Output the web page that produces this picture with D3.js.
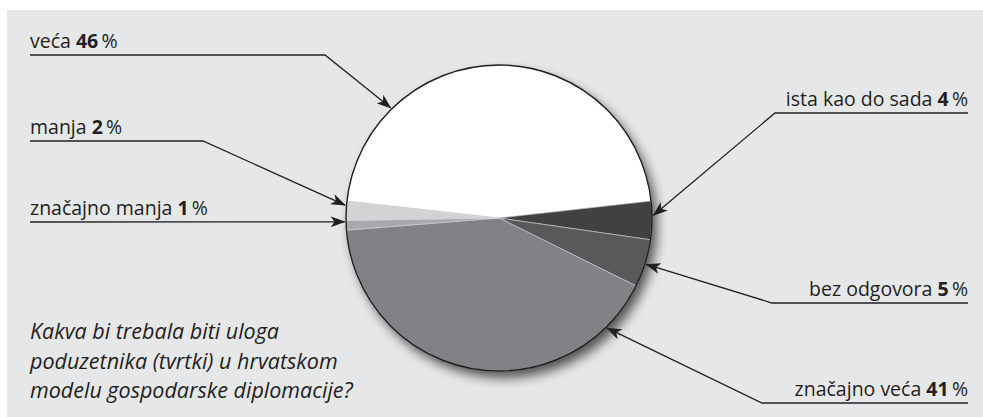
<!DOCTYPE html>
<html>
<head>
<meta charset="utf-8">
<script src="https://cdn.jsdelivr.net/npm/d3@7"></script>
<style>
  html, body { margin: 0; padding: 0; background: #ffffff; }
  svg { display: block; }
  text { font-family: "Open Sans", "Noto Sans", sans-serif; fill: #231f20; }
</style>
</head>
<body>
<svg id="chart" width="983" height="417"></svg>
<script>
// Survey answers, in drawing order (clockwise, starting left of the top)
const categories = ["veća", "ista kao do sada", "bez odgovora", "značajno veća", "značajno manja", "manja"];
const values = [46, 4, 5, 41, 1, 2];
const sliceColors = ["#ffffff", "#414042", "#58595b", "#808285", "#a7a9ac", "#d1d3d4"];

const questionLines = [
  "Kakva bi trebala biti uloga",
  "poduzetnika (tvrtki) u hrvatskom",
  "modelu gospodarske diplomacije?"
];

// Callout layout: side of the label, y of the underline, elbow x, pointer angle (deg, clockwise from top)
const callouts = [
  { side: "left",  lineY: 55,  elbowX: 325, angle: -44.5 },
  { side: "right", lineY: 113, elbowX: 775, angle: 89 },
  { side: "right", lineY: 303, elbowX: 772, angle: 107.5 },
  { side: "right", lineY: 403, elbowX: 762, angle: 135.5 },
  { side: "left",  lineY: 222, elbowX: null, angle: 268.6 },
  { side: "left",  lineY: 141, elbowX: 203, angle: 274.8 }
];

const W = 983, H = 417;
const cx = 499, cy = 218, R = 153;
const leftX = 30, rightX = 968;
const ink = "#231f20";

const svg = d3.select("#chart");
const defs = svg.append("defs");

// Soft drop shadow under the pie
const f = defs.append("filter").attr("id", "shadow")
  .attr("x", "-20%").attr("y", "-20%").attr("width", "150%").attr("height", "150%");
f.append("feGaussianBlur").attr("in", "SourceAlpha").attr("stdDeviation", 6).attr("result", "b");
f.append("feOffset").attr("in", "b").attr("dx", 5).attr("dy", 7).attr("result", "o");
f.append("feComponentTransfer").attr("in", "o").attr("result", "s")
  .append("feFuncA").attr("type", "linear").attr("slope", 0.65);
const merge = f.append("feMerge");
merge.append("feMergeNode").attr("in", "s");

// Arrowhead
defs.append("marker").attr("id", "arrow")
  .attr("viewBox", "0 0 15 11").attr("refX", 14).attr("refY", 5.5)
  .attr("markerWidth", 15).attr("markerHeight", 11)
  .attr("markerUnits", "userSpaceOnUse").attr("orient", "auto")
  .append("path").attr("d", "M0,0 L15,5.5 L0,11 L4,5.5 Z").attr("fill", ink);

// Panel
svg.append("rect").attr("x", 7).attr("y", 10).attr("width", W - 7).attr("height", H - 10)
  .attr("fill", "#e6e7e8");

// Pie
const total = d3.sum(values);
const start = -(values[0] / total) * Math.PI;
const pie = d3.pie().sort(null).value(d => d).startAngle(start).endAngle(start + 2 * Math.PI);
const arcs = pie(values);
const arc = d3.arc().innerRadius(0).outerRadius(R);

const g = svg.append("g").attr("transform", `translate(${cx},${cy})`);
g.append("circle").attr("r", R).attr("fill", "#000").attr("filter", "url(#shadow)");
g.selectAll("path.slice").data(arcs).join("path")
  .attr("class", "slice")
  .attr("d", arc)
  .attr("fill", (d, i) => sliceColors[i])
  .attr("stroke", "#d9dadb")
  .attr("stroke-width", 0.6);
g.append("circle").attr("r", R).attr("fill", "none").attr("stroke", ink).attr("stroke-width", 1.4);

// Callouts
const rad = a => a * Math.PI / 180;
const tipR = R + 1.5;
const lab = svg.append("g");
callouts.forEach((c, i) => {
  const tx = cx + tipR * Math.sin(rad(c.angle));
  const ty = cy - tipR * Math.cos(rad(c.angle));
  const outer = c.side === "left" ? leftX : rightX;
  const pts = c.elbowX === null
    ? [[outer, c.lineY], [tx, ty]]
    : [[outer, c.lineY], [c.elbowX, c.lineY], [tx, ty]];
  lab.append("path")
    .attr("d", d3.line()(pts))
    .attr("fill", "none").attr("stroke", ink).attr("stroke-width", 1.3)
    .attr("marker-end", "url(#arrow)");

  const t = lab.append("text")
    .attr("x", outer).attr("y", c.lineY - 7)
    .attr("text-anchor", c.side === "left" ? "start" : "end")
    .attr("font-size", 19.5);
  t.append("tspan").text(categories[i] + " ");
  t.append("tspan").attr("font-weight", 700).text(values[i]);
  t.append("tspan").text("\u2009%");
});

// Question
svg.append("g").selectAll("text").data(questionLines).join("text")
  .attr("x", leftX).attr("y", (d, i) => 339 + i * 29.5)
  .attr("font-size", 21.5).attr("font-style", "italic")
  .text(d => d);
</script>
</body>
</html>
